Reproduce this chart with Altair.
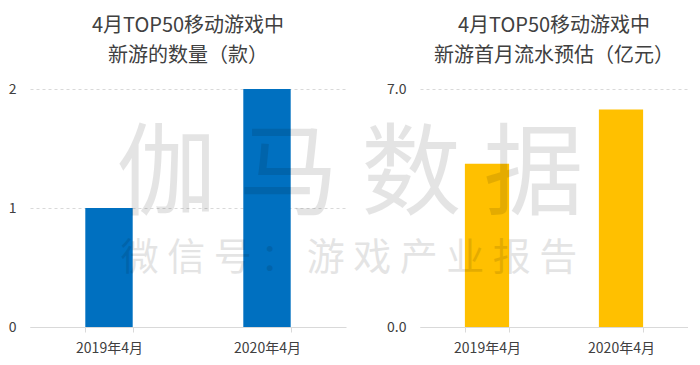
import altair as alt
import pandas as pd

categories = ["2019年4月", "2020年4月"]
new_games = [1, 2]
revenue = [4.8, 6.4]

title_left = ["4月TOP50移动游戏中", "新游的数量（款）"]
title_right = ["4月TOP50移动游戏中", "新游首月流水预估（亿元）"]
wm_line1 = ["伽 马 数 据"]
wm_line2 = ["微 信 号 ： 游 戏 产 业 报 告"]

FONT = "Noto Sans CJK SC"
GRID = "#d9d9d9"
TXT = "#404040"

df_l = pd.DataFrame({"cat": categories, "v": new_games})
df_r = pd.DataFrame({"cat": categories, "v": revenue})
wm = pd.DataFrame({"t1": wm_line1, "t2": wm_line2})


def xaxis():
    return alt.Axis(title=None, labelAngle=0, labelFont=FONT, labelFontSize=14,
                    labelColor=TXT, domainColor=GRID, tickColor=GRID, tickSize=5,
                    tickBand="extent", grid=False, labelPadding=9)


def yaxis(vals, fmt):
    return alt.Axis(title=None, values=vals, format=fmt, labelFont=FONT,
                    labelFontSize=14, labelColor=TXT, domain=False, ticks=False,
                    grid=True, gridColor=GRID, gridDash=[3, 3], labelPadding=14,
                    labelOverlap=False, tickMinStep=0.5)


def ttl(lines):
    return alt.TitleParams(lines, font=FONT, fontSize=20, fontWeight="normal",
                           color=TXT, lineHeight=30, offset=16, anchor="middle")


left = alt.Chart(df_l).mark_bar(color="#0070C0").encode(
    x=alt.X("cat:N", axis=xaxis(),
            scale=alt.Scale(paddingInner=0.70, paddingOuter=0.35)),
    y=alt.Y("v:Q", axis=yaxis([0.0, 1.0, 2.0], ".0f"),
            scale=alt.Scale(domain=[0, 2])),
).properties(width=316, height=238, title=ttl(title_left))

bars_r = alt.Chart(df_r).mark_bar(color="#FFC000").encode(
    x=alt.X("cat:N", axis=xaxis(),
            scale=alt.Scale(paddingInner=0.67, paddingOuter=0.335)),
    y=alt.Y("v:Q", axis=yaxis([0.0, 7.0], ".1f"), scale=alt.Scale(domain=[0, 7])),
)

w1 = alt.Chart(wm).mark_text(font=FONT, fontSize=100, color="#000000",
                             opacity=0.10, align="center", baseline="middle").encode(
    text="t1:N", x=alt.value(-70), y=alt.value(88))
w2 = alt.Chart(wm).mark_text(font=FONT, fontSize=38, color="#000000",
                             opacity=0.10, align="center", baseline="middle").encode(
    text="t2:N", x=alt.value(-71), y=alt.value(170))

right = alt.layer(bars_r, w1, w2).properties(width=268, height=238,
                                             title=ttl(title_right))

chart = alt.hconcat(left, right, spacing=74, bounds="flush").properties(
    padding={"left": 0, "top": 8, "right": 0, "bottom": 0}
).configure_view(stroke=None)

chart.save("out.html", embed_options={"renderer": "svg", "actions": False})
